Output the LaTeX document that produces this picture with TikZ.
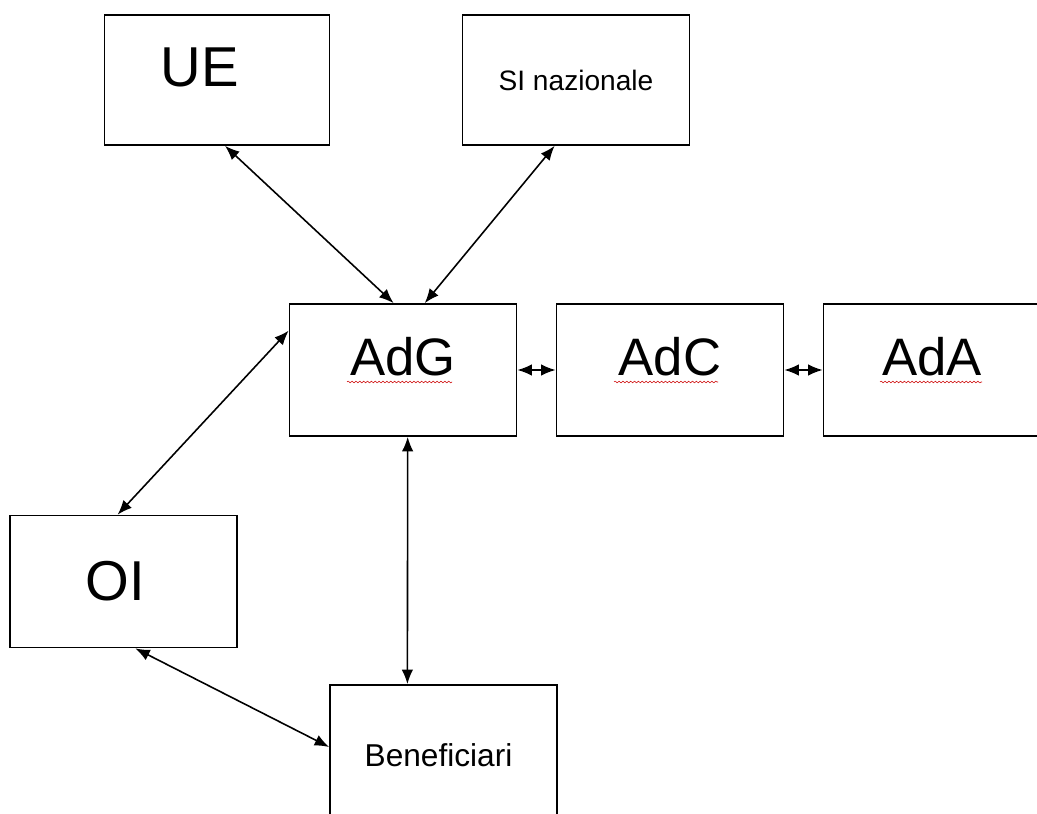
\documentclass[tikz,border=0pt]{standalone}
\usepackage{fontspec}
\setmainfont{Liberation Sans}
\usetikzlibrary{arrows.meta,decorations.pathmorphing}

\begin{document}
\begin{tikzpicture}[x=0.02cm, y=-0.02cm,
  box/.style={draw, line width=1pt, minimum width=4.54cm, minimum height=2.64cm, inner sep=0pt},
  link/.style={line width=0.9pt, {Latex[length=2.9mm,width=2.3mm]}-{Latex[length=2.9mm,width=2.3mm]}},
  squiggle/.style={red!80!black, line width=0.3pt, decorate, decoration={snake, amplitude=0.5pt, segment length=2.2pt}}]
\useasboundingbox (0,0) rectangle (1037,814);
\clip (0,0) rectangle (1037,814);

% Top row
\node[box, minimum width=4.5cm, minimum height=2.6cm, text depth=0.5cm] (ue) at (217,80) {\fontsize{32}{36}\selectfont UE\hspace{0.68cm}\null};
\node[box, minimum height=2.6cm] (si) at (576,80) {\fontsize{16}{18}\selectfont SI nazionale};

% Middle row
\node[box, text depth=0.55cm] (adg) at (403,370) {\fontsize{30}{34}\selectfont AdG};
\node[box, text depth=0.55cm] (adc) at (670,370) {\fontsize{30}{34}\selectfont AdC};
\node[box, text depth=0.55cm] (ada) at (937,370) {\fontsize{30}{34}\selectfont AdA\hspace{0.2cm}\null};

% Bottom
\node[box] (oi) at (123.5,581.5) {\fontsize{32}{36}\selectfont OI\hspace{0.32cm}\null};
\node[box, minimum height=2.8cm, text depth=-0.6cm] (ben) at (443.5,755) {\fontsize{18}{20}\selectfont Beneficiari\hspace{0.2cm}\null};

% Spelling marks
\draw[squiggle] (347,382) -- (452,382);
\draw[squiggle] (614,382) -- (718,382);
\draw[squiggle] (880,382) -- (982,382);

% Connectors
\draw[link] (ue.-83) -- (adg.98);
\draw[link] (si.-108) -- (adg.72);
\draw[link] (adg.161) -- (oi.95);
\draw[link] (adg.-86) -- (ben.117);
\draw[link] (oi.-80) -- (ben.176);
\draw[link] (adg.east) -- (adc.west);
\draw[link] (adc.east) -- (ada.west);
\end{tikzpicture}
\end{document}
